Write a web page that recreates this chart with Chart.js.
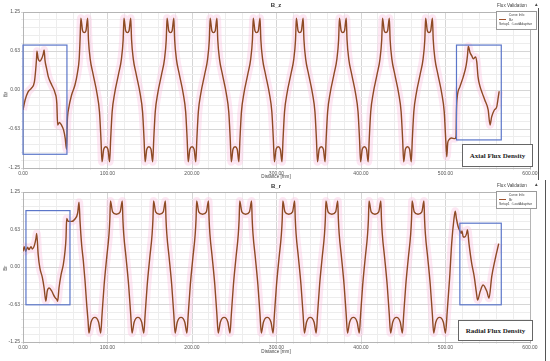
<!DOCTYPE html>
<html>
<head>
<meta charset="utf-8">
<script src="https://cdn.jsdelivr.net/npm/chart.js@4.4.0/dist/chart.umd.min.js"></script>
<style>
  body { margin: 0; background: #fff; width: 550px; height: 361px; overflow: hidden; position: relative;
         font-family: "Liberation Sans", Arial, sans-serif; }
  .panel { position: absolute; left: 0; width: 550px; }
  .lbl { position: absolute; white-space: nowrap; color: #333; line-height: 1; }
  .ttl { font-size: 6px; font-weight: bold; transform: translateX(-50%); }
  .small { font-size: 4.6px; color: #444; }
  .legend { position: absolute; border: 1px solid #9a9a9a; background: #fff; box-sizing: border-box;
            font-size: 3.4px; color: #444; line-height: 4.6px; padding: 1px 2px; white-space: nowrap; overflow: hidden; }
  .legend .sw { display: inline-block; width: 7px; border-top: 1px solid #a0522d; vertical-align: middle; margin-right: 3px; }
  .note { position: absolute; border: 1px solid #666; background: #fff; box-sizing: border-box;
          font-family: "Liberation Serif", "Times New Roman", serif; font-weight: bold; font-size: 7px;
          color: #222; display: flex; align-items: center; justify-content: center; }
  .vline { position: absolute; width: 1px; background: #555; }
</style>
</head>
<body>

<div class="panel" style="top:0;height:180px;">
  <canvas id="chartBz" width="550" height="180"></canvas>
  <div class="lbl ttl" style="left:276px;top:2px;">B_z</div>
  <div class="lbl small" style="left:497px;top:4px;">Flux Validation</div>
  <div class="lbl small" style="left:534px;top:3px;">&#9650;</div>
  <div class="legend" style="left:496px;top:11px;width:41px;height:19px;">
    <div style="text-align:center;">Curve Info</div>
    <div><span class="sw"></span>Bz</div>
    <div>Setup1 : LastAdaptive</div>
  </div>
  <div class="lbl small" style="left:276px;top:175px;transform:translateX(-50%);">Distance [mm]</div>
  <div class="lbl small" style="left:4px;top:92px;transform:rotate(-90deg);">Bz</div>
  <div class="note" style="left:462px;top:144px;width:71px;height:23px;">Axial Flux Density</div>
  <div class="vline" style="left:538px;top:8px;height:172px;"></div>
</div>

<div class="panel" style="top:180px;height:181px;">
  <canvas id="chartBr" width="550" height="181"></canvas>
  <div class="lbl ttl" style="left:276px;top:3px;">B_r</div>
  <div class="lbl small" style="left:497px;top:4px;">Flux Validation</div>
  <div class="lbl small" style="left:534px;top:3px;">&#9650;</div>
  <div class="legend" style="left:496px;top:11px;width:41px;height:18px;">
    <div style="text-align:center;">Curve Info</div>
    <div><span class="sw"></span>Br</div>
    <div>Setup1 : LastAdaptive</div>
  </div>
  <div class="lbl small" style="left:276px;top:170px;transform:translateX(-50%);">Distance [mm]</div>
  <div class="lbl small" style="left:4px;top:86px;transform:rotate(-90deg);">Br</div>
  <div class="note" style="left:458px;top:140px;width:75px;height:21px;">Radial Flux Density</div>
  <div class="vline" style="left:545px;top:0px;height:181px;"></div>
</div>

<script>
// axis ticks
const xMajor = [0, 100, 200, 300, 400, 500, 600];
const yMajor = [-1.25, -0.625, 0, 0.625, 1.25];

// Bz along distance [mm] -> value
const bzCurve = [
  [0,-0.32],[2.5,-0.16],[6,-0.03],[10,0.03],[13.5,0.13],[15,0.32],[16,0.5],[16.5,0.62],[18,0.5],[20,0.46],
  [22,0.5],[24,0.58],[25,0.64],[26,0.48],[28,0.34],[30,0.21],[34,0.08],[38,-0.05],[40,-0.21],[41,-0.56],
  [43,-0.52],[45.5,-0.56],[48,-0.64],[50,-0.78],[51.5,-0.95],[52.5,-0.48],[54,-0.3],[57.5,-0.08],[61.5,0.08],
  [64.5,0.28],[66.5,0.5],[67.5,0.8],
  [68.5,1.15],[70.5,0.95],[72.5,0.92],[74.5,0.95],[76.5,1.15],[77.5,0.8],[79.5,0.5],[83,0.25],[87.5,-0.05],[90.5,-0.35],[92.3,-0.8],
  [93.5,-1.15],[95.5,-0.95],[98,-0.91],[100.5,-0.95],[102.5,-1.15],[103.7,-0.8],[105.5,-0.35],[108.5,-0.05],[113,0.25],[116.5,0.5],[118.5,0.8],
  [119.5,1.15],[121.5,0.95],[123.5,0.92],[125.5,0.95],[127.5,1.15],[128.5,0.8],[130.5,0.5],[134,0.25],[138.5,-0.05],[141.5,-0.35],[143.3,-0.8],
  [144.5,-1.15],[146.5,-0.95],[149,-0.91],[151.5,-0.95],[153.5,-1.15],[154.7,-0.8],[156.5,-0.35],[159.5,-0.05],[164,0.25],[167.5,0.5],[169.5,0.8],
  [170.5,1.15],[172.5,0.95],[174.5,0.92],[176.5,0.95],[178.5,1.15],[179.5,0.8],[181.5,0.5],[185,0.25],[189.5,-0.05],[192.5,-0.35],[194.3,-0.8],
  [195.5,-1.15],[197.5,-0.95],[200,-0.91],[202.5,-0.95],[204.5,-1.15],[205.7,-0.8],[207.5,-0.35],[210.5,-0.05],[215,0.25],[218.5,0.5],[220.5,0.8],
  [221.5,1.15],[223.5,0.95],[225.5,0.92],[227.5,0.95],[229.5,1.15],[230.5,0.8],[232.5,0.5],[236,0.25],[240.5,-0.05],[243.5,-0.35],[245.3,-0.8],
  [246.5,-1.15],[248.5,-0.95],[251,-0.91],[253.5,-0.95],[255.5,-1.15],[256.7,-0.8],[258.5,-0.35],[261.5,-0.05],[266,0.25],[269.5,0.5],[271.5,0.8],
  [272.5,1.15],[274.5,0.95],[276.5,0.92],[278.5,0.95],[280.5,1.15],[281.5,0.8],[283.5,0.5],[287,0.25],[291.5,-0.05],[294.5,-0.35],[296.3,-0.8],
  [297.5,-1.15],[299.5,-0.95],[302,-0.91],[304.5,-0.95],[306.5,-1.15],[307.7,-0.8],[309.5,-0.35],[312.5,-0.05],[317,0.25],[320.5,0.5],[322.5,0.8],
  [323.5,1.15],[325.5,0.95],[327.5,0.92],[329.5,0.95],[331.5,1.15],[332.5,0.8],[334.5,0.5],[338,0.25],[342.5,-0.05],[345.5,-0.35],[347.3,-0.8],
  [348.5,-1.15],[350.5,-0.95],[353,-0.91],[355.5,-0.95],[357.5,-1.15],[358.7,-0.8],[360.5,-0.35],[363.5,-0.05],[368,0.25],[371.5,0.5],[373.5,0.8],
  [374.5,1.15],[376.5,0.95],[378.5,0.92],[380.5,0.95],[382.5,1.15],[383.5,0.8],[385.5,0.5],[389,0.25],[393.5,-0.05],[396.5,-0.35],[398.3,-0.8],
  [399.5,-1.15],[401.5,-0.95],[404,-0.91],[406.5,-0.95],[408.5,-1.15],[409.7,-0.8],[411.5,-0.35],[414.5,-0.05],[419,0.25],[422.5,0.5],[424.5,0.8],
  [425.5,1.15],[427.5,0.95],[429.5,0.92],[431.5,0.95],[433.5,1.15],[434.5,0.8],[436.5,0.5],[440,0.25],[444.5,-0.05],[447.5,-0.35],[449.3,-0.8],
  [450.5,-1.15],[452.5,-0.95],[455,-0.91],[457.5,-0.95],[459.5,-1.15],[460.7,-0.8],[462.5,-0.35],[465.5,-0.05],[470,0.25],[473.5,0.5],[475.5,0.8],
  [476.5,1.15],[478.5,0.95],[480.5,0.92],[482.5,0.95],[484.5,1.15],[485.5,0.8],[487.5,0.5],[491,0.25],[495.5,-0.05],[498.5,-0.35],[500.3,-0.8],
  [501.5,-1.07],[502.6,-0.85],[504,-0.8],[507,-0.77],[511,-0.78],[512.5,-0.74],[513,-0.32],[514,-0.1],[517,0.05],[521,0.21],
  [524.5,0.4],[526,0.55],[527,0.7],[529,0.6],[531,0.55],[533,0.5],[535.5,0.53],[537,0.45],[538.5,0.21],[541,0.05],
  [543.5,-0.05],[546.5,-0.16],[550.5,-0.32],[552.7,-0.56],[554.6,-0.43],[557.8,-0.32],[560.6,-0.27],[562.5,-0.11],[563.5,-0.02]
];

// Br along distance [mm] -> value
const brCurve = [
  [0,0.26],[1.5,0.34],[3,0.26],[5.5,0.33],[7,0.29],[9.5,0.34],[11,0.3],[13.5,0.36],[15.4,0.48],[16.2,0.56],
  [18,0.2],[20,-0.02],[23,-0.18],[25,-0.35],[27,-0.57],[28.7,-0.4],[31,-0.35],[34,-0.4],[36,-0.46],[38,-0.51],
  [40,-0.54],[41,-0.57],[42.6,-0.35],[45,-0.13],[47.7,0.04],[49.7,0.26],[50.9,0.48],[51.7,0.81],[53.6,0.76],
  [57.6,0.76],[61.5,0.8],[64.7,0.9],[66.3,1.08],[67.5,0.76],[69.4,0.37],[71.4,0.1],[73.4,-0.23],[75.4,-0.63],[77,-0.9],
  [78,-1.1],[80.5,-0.92],[85,-0.84],[89.5,-0.92],[92,-1.1],[93.5,-0.8],[96,-0.3],[99,0.15],[101.8,0.55],[102.8,0.8],
  [103.5,1.1],[106,0.92],[110.5,0.88],[115,0.92],[117.5,1.1],[118.2,0.8],[119.2,0.55],[122,0.15],[125,-0.3],[127.5,-0.8],
  [129,-1.1],[131.5,-0.92],[136,-0.84],[140.5,-0.92],[143,-1.1],[144.5,-0.8],[147,-0.3],[150,0.15],[152.8,0.55],[153.8,0.8],
  [154.5,1.1],[157,0.92],[161.5,0.88],[166,0.92],[168.5,1.1],[169.2,0.8],[170.2,0.55],[173,0.15],[176,-0.3],[178.5,-0.8],
  [180,-1.1],[182.5,-0.92],[187,-0.84],[191.5,-0.92],[194,-1.1],[195.5,-0.8],[198,-0.3],[201,0.15],[203.8,0.55],[204.8,0.8],
  [205.5,1.1],[208,0.92],[212.5,0.88],[217,0.92],[219.5,1.1],[220.2,0.8],[221.2,0.55],[224,0.15],[227,-0.3],[229.5,-0.8],
  [231,-1.1],[233.5,-0.92],[238,-0.84],[242.5,-0.92],[245,-1.1],[246.5,-0.8],[249,-0.3],[252,0.15],[254.8,0.55],[255.8,0.8],
  [256.5,1.1],[259,0.92],[263.5,0.88],[268,0.92],[270.5,1.1],[271.2,0.8],[272.2,0.55],[275,0.15],[278,-0.3],[280.5,-0.8],
  [282,-1.1],[284.5,-0.92],[289,-0.84],[293.5,-0.92],[296,-1.1],[297.5,-0.8],[300,-0.3],[303,0.15],[305.8,0.55],[306.8,0.8],
  [307.5,1.1],[310,0.92],[314.5,0.88],[319,0.92],[321.5,1.1],[322.2,0.8],[323.2,0.55],[326,0.15],[329,-0.3],[331.5,-0.8],
  [333,-1.1],[335.5,-0.92],[340,-0.84],[344.5,-0.92],[347,-1.1],[348.5,-0.8],[351,-0.3],[354,0.15],[356.8,0.55],[357.8,0.8],
  [358.5,1.1],[361,0.92],[365.5,0.88],[370,0.92],[372.5,1.1],[373.2,0.8],[374.2,0.55],[377,0.15],[380,-0.3],[382.5,-0.8],
  [384,-1.1],[386.5,-0.92],[391,-0.84],[395.5,-0.92],[398,-1.1],[399.5,-0.8],[402,-0.3],[405,0.15],[407.8,0.55],[408.8,0.8],
  [409.5,1.1],[412,0.92],[416.5,0.88],[421,0.92],[423.5,1.1],[424.2,0.8],[425.2,0.55],[428,0.15],[431,-0.3],[433.5,-0.8],
  [435,-1.1],[437.5,-0.92],[442,-0.84],[446.5,-0.92],[449,-1.1],[450.5,-0.8],[453,-0.3],[456,0.15],[458.8,0.55],[459.8,0.8],
  [460.5,1.1],[463,0.92],[467.5,0.88],[472,0.92],[474.5,1.1],[475.2,0.8],[476.2,0.55],[479,0.15],[482,-0.3],[484.5,-0.8],
  [486,-1.1],[488.5,-0.92],[493,-0.84],[497.5,-0.92],[500,-1.1],[502,-0.75],[505,-0.16],[507.3,0.39],[510,0.8],[511.5,0.93],
  [513,0.8],[515,0.67],[517,0.6],[518.5,0.56],[519.5,0.6],[521,0.5],[523,0.5],[525,0.56],[526,0.62],[527.8,0.39],
  [531,0.06],[534,-0.16],[536.5,-0.42],[538,-0.55],[541,-0.41],[544.5,-0.3],[549,-0.41],[551.5,-0.52],[554.7,-0.16],
  [558.6,0.12],[563,0.39]
];

// highlighted ranges [x from, x to, y top, y bottom]
const bzMarked = [[0, 52, 0.72, -1.03], [513, 566, 0.72, -0.8]];
const brMarked = [[3.5, 55.6, 0.94, -0.63], [517, 566, 0.73, -0.63]];

function toPoints(pairs) {
  return pairs.map(function (p) { return { x: p[0], y: p[1] }; });
}

function isMajor(v, list) {
  return list.some(function (m) { return Math.abs(m - v) < 1e-6; });
}

const framePlugin = {
  id: "frame",
  beforeDatasetsDraw: function (chart) {
    const a = chart.chartArea;
    const ctx = chart.ctx;
    ctx.save();
    ctx.strokeStyle = "#b5b5b5";
    ctx.lineWidth = 1;
    ctx.strokeRect(a.left + 0.5, a.top + 0.5, a.right - a.left, a.bottom - a.top);
    ctx.restore();
  },
  afterDatasetsDraw: function (chart, args, opts) {
    const ctx = chart.ctx;
    const xs = chart.scales.x;
    const ys = chart.scales.y;
    ctx.save();
    ctx.strokeStyle = "#5b76c9";
    ctx.lineWidth = 1.2;
    opts.boxes.forEach(function (b) {
      const x1 = xs.getPixelForValue(b[0]);
      const x2 = xs.getPixelForValue(b[1]);
      const y1 = ys.getPixelForValue(b[2]);
      const y2 = ys.getPixelForValue(b[3]);
      ctx.strokeRect(x1, y1, x2 - x1, y2 - y1);
    });
    ctx.restore();
  }
};

function makeChart(id, pairs, boxes, axisHeight) {
  const pts = toPoints(pairs);
  return new Chart(document.getElementById(id), {
    type: "line",
    data: {
      datasets: [
        {
          // the curve itself, drawn on top
          data: pts,
          borderColor: "#8e4a24",
          borderWidth: 1.4,
          pointRadius: 0,
          cubicInterpolationMode: "monotone",
          order: 1
        },
        {
          // soft pink glow that sits behind the curve
          data: pts,
          borderColor: "rgba(250,196,224,0.4)",
          borderWidth: 8,
          pointRadius: 0,
          cubicInterpolationMode: "monotone",
          order: 2
        }
      ]
    },
    options: {
      responsive: false,
      animation: false,
      devicePixelRatio: 1,
      layout: { padding: { top: 12, right: 20, left: 0, bottom: 0 } },
      plugins: {
        legend: { display: false },
        tooltip: { enabled: false },
        frame: { boxes: boxes }
      },
      scales: {
        x: {
          type: "linear",
          min: 0,
          max: 600,
          afterFit: function (scale) { scale.height = axisHeight; },
          ticks: {
            stepSize: 20,
            autoSkip: false,
            maxRotation: 0,
            padding: 1,
            color: "#555",
            font: { size: 5, family: "Liberation Sans" },
            callback: function (v) { return isMajor(v, xMajor) ? v.toFixed(2) : ""; }
          },
          grid: {
            color: function (c) { return isMajor(c.tick.value, xMajor) ? "#d6d6d6" : "#ededed"; },
            tickLength: 2
          },
          border: { color: "#999" }
        },
        y: {
          min: -1.25,
          max: 1.25,
          afterFit: function (scale) { scale.width = 23; },
          ticks: {
            stepSize: 0.125,
            autoSkip: false,
            padding: 1,
            color: "#555",
            font: { size: 5, family: "Liberation Sans" },
            callback: function (v) { return isMajor(v, yMajor) ? v.toFixed(2) : ""; }
          },
          grid: {
            color: function (c) { return isMajor(c.tick.value, yMajor) ? "#d6d6d6" : "#ededed"; },
            tickLength: 2
          },
          border: { color: "#999" }
        }
      }
    },
    plugins: [framePlugin]
  });
}

makeChart("chartBz", bzCurve, bzMarked, 12);
makeChart("chartBr", brCurve, brMarked, 19);
</script>
</body>
</html>
